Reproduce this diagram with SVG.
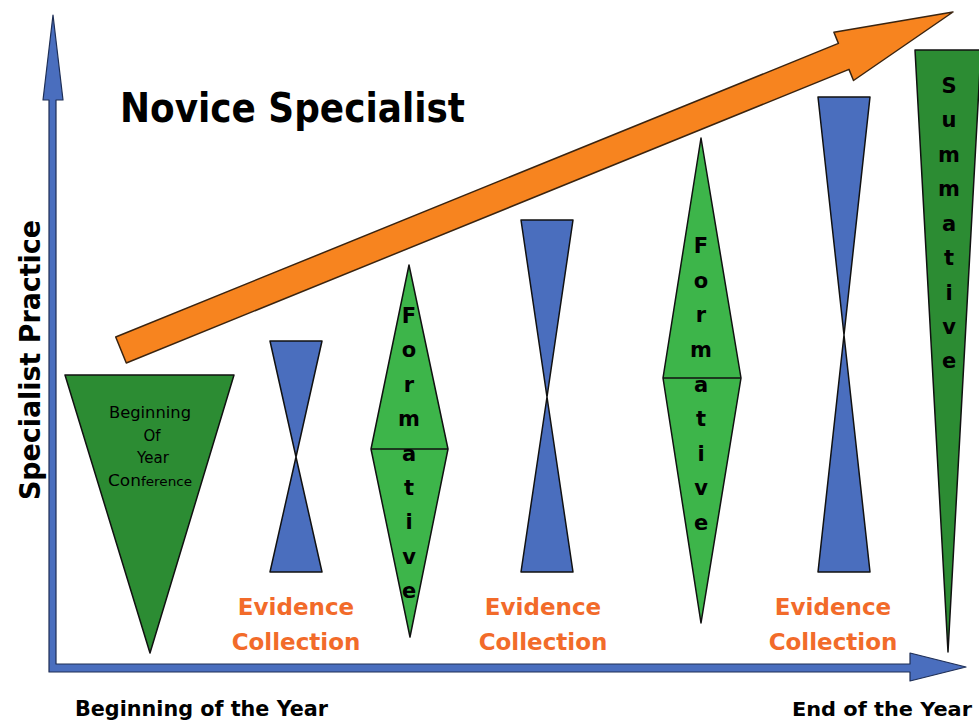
<svg xmlns="http://www.w3.org/2000/svg" width="979" height="724" viewBox="0 0 979 724">
<style>
.axis{fill:#4A6EBE;stroke:#1E2E55;stroke-width:1.2;stroke-linejoin:round}
.bow{fill:#4A6EBE;stroke:#111;stroke-width:1.5;stroke-linejoin:round}
.dk{fill:#2C8C33;stroke:#111;stroke-width:1.5;stroke-linejoin:round}
.lt{fill:#3DB54A;stroke:#111;stroke-width:1.5;stroke-linejoin:round}
.t{font-family:"DejaVu Sans","Liberation Sans",sans-serif;fill:#000}
.b{font-weight:bold}
.ev{font-family:"DejaVu Sans","Liberation Sans",sans-serif;fill:#F26B2A;font-size:23px;font-weight:bold;text-anchor:middle}
.lt-t{font-family:"DejaVu Sans","Liberation Sans",sans-serif;fill:#000;font-size:21px;font-weight:bold;text-anchor:middle}
</style>
<rect width="979" height="724" fill="#fff"/>
<g id="connectors">
<path class="axis" d="M49,672 L49,100 L43,100 L53,15 L63,100 L56,100 L56,664 L910,664 L910,653 L966,667 L910,681 L910,672 Z"/>
<path d="M115.7,337 L838.4,43.4 L833.9,32.3 L953,12 L853.5,80.5 L849,69.4 L126.3,363 Z" fill="#F7841F" stroke="#3A2410" stroke-width="1.5" stroke-linejoin="round"/>
</g>
<g id="title"><text class="t b" x="120" y="122" font-size="40" textLength="345" lengthAdjust="spacingAndGlyphs">Novice Specialist</text></g>
<g id="ylabel"><text class="t b" transform="translate(40,360) rotate(-90)" font-size="28" text-anchor="middle" textLength="280" lengthAdjust="spacingAndGlyphs">Specialist Practice</text></g>
<g id="xlabel-start"><text class="t b" x="75" y="716" font-size="22" textLength="253" lengthAdjust="spacingAndGlyphs">Beginning of the Year</text></g>
<g id="xlabel-end"><text class="t b" x="792" y="716" font-size="19.5" textLength="180" lengthAdjust="spacingAndGlyphs">End of the Year</text></g>
<g id="conference">
<polygon class="dk" points="65,375 234,375 150,653"/>
<text class="t" font-size="15" text-anchor="middle"><tspan x="150" y="418" textLength="82" lengthAdjust="spacingAndGlyphs">Beginning</tspan><tspan x="152" y="441">Of</tspan><tspan x="153" y="463">Year</tspan><tspan x="150" y="486" textLength="84" lengthAdjust="spacingAndGlyphs">Con<tspan font-size="12">ference</tspan></tspan></text>
</g>
<g id="evidence1">
<polygon class="bow" points="270,341 322,341 296,457 322,572 270,572 296,457"/>
<text class="ev" x="296" y="615">Evidence</text><text class="ev" x="296" y="650">Collection</text>
</g>
<g id="formative1">
<polygon class="lt" points="409,265 448,449 410,637 371,449"/>
<line x1="371" y1="449" x2="448" y2="449" stroke="#111" stroke-width="1.5"/>
<text class="lt-t"><tspan x="409" y="323">F</tspan><tspan x="409" y="357">o</tspan><tspan x="409" y="392">r</tspan><tspan x="409" y="426">m</tspan><tspan x="409" y="461">a</tspan><tspan x="409" y="495">t</tspan><tspan x="409" y="529">i</tspan><tspan x="409" y="564">v</tspan><tspan x="409" y="598">e</tspan></text>
</g>
<g id="evidence2">
<polygon class="bow" points="521,220 573,220 547,397 573,572 521,572 547,397"/>
<text class="ev" x="543" y="615">Evidence</text><text class="ev" x="543" y="650">Collection</text>
</g>
<g id="formative2">
<polygon class="lt" points="701,138 741,378 701,623 663,378"/>
<line x1="663" y1="378" x2="741" y2="378" stroke="#111" stroke-width="1.5"/>
<text class="lt-t"><tspan x="701" y="253">F</tspan><tspan x="701" y="288">o</tspan><tspan x="701" y="322">r</tspan><tspan x="701" y="357">m</tspan><tspan x="701" y="392">a</tspan><tspan x="701" y="426">t</tspan><tspan x="701" y="461">i</tspan><tspan x="701" y="495">v</tspan><tspan x="701" y="530">e</tspan></text>
</g>
<g id="evidence3">
<polygon class="bow" points="818,97 870,97 844,335 870,572 818,572 844,335"/>
<text class="ev" x="833" y="615">Evidence</text><text class="ev" x="833" y="650">Collection</text>
</g>
<g id="summative">
<polygon class="dk" points="915,50 981,50 948,652"/>
<text class="lt-t"><tspan x="949" y="93">S</tspan><tspan x="949" y="127">u</tspan><tspan x="949" y="162">m</tspan><tspan x="949" y="196">m</tspan><tspan x="949" y="231">a</tspan><tspan x="949" y="265">t</tspan><tspan x="949" y="300">i</tspan><tspan x="949" y="334">v</tspan><tspan x="949" y="368">e</tspan></text>
</g>
</svg>
